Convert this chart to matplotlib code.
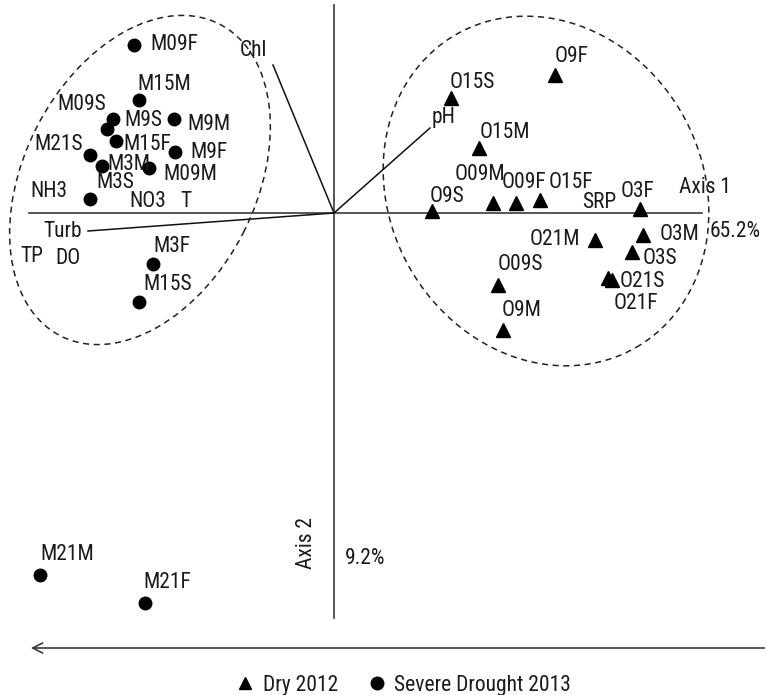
import matplotlib
matplotlib.use("Agg")
import matplotlib.pyplot as plt
from matplotlib.patches import Ellipse
from matplotlib.lines import Line2D

plt.rcParams['font.family'] = ['Roboto Condensed', 'Archivo Narrow', 'Liberation Sans', 'DejaVu Sans']

# site scores, Dry 2012 (triangles)
dry_sites = ['O9F', 'O15S', 'O15M', 'O9S', 'O09M', 'O09F', 'O15F', 'O3F',
             'O21M', 'O3M', 'O3S', 'O21S', 'O21F', 'O09S', 'O9M']
dry_x = [2.21, 1.17, 1.45, 0.98, 1.59, 1.82, 2.06, 3.06,
         2.61, 3.09, 2.98, 2.78, 2.74, 1.64, 1.69]
dry_y = [1.38, 1.15, 0.65, 0.02, 0.10, 0.10, 0.13, 0.04,
         -0.27, -0.22, -0.39, -0.67, -0.65, -0.72, -1.17]

# site scores, Severe Drought 2013 (circles)
drought_sites = ['M09F', 'M15M', 'M9S', 'M09S', 'M9M', 'M15F', 'M21S', 'M9F',
                 'M3M', 'M09M', 'M3S', 'M3F', 'M15S', 'M21M', 'M21F']
drought_x = [-2.00, -1.95, -2.21, -2.27, -1.60, -2.18, -2.44, -1.59,
             -2.32, -1.85, -2.44, -1.81, -1.95, -2.94, -1.89]
drought_y = [1.68, 1.13, 0.94, 0.84, 0.94, 0.72, 0.58, 0.61,
             0.47, 0.45, 0.14, -0.51, -0.89, -3.62, -3.90]

# environmental vectors drawn as lines
vec_names = ['Chl', 'pH', 'Turb']
vec_x = [-0.61, 0.96, -2.46]
vec_y = [1.48, 0.85, -0.18]

# variable labels
env_names = ['Chl', 'pH', 'Turb', 'NH3', 'NO3', 'T', 'TP', 'DO', 'SRP']
env_x = [-0.94, 0.98, -2.91, -3.04, -2.05, -1.54, -3.14, -2.79, 2.48]
env_y = [1.63, 0.96, -0.19, 0.21, 0.11, 0.11, -0.44, -0.46, 0.10]

axis1_pct = '65.2%'
axis2_pct = '9.2%'

# label offsets in pixels (dx, dy) from each marker
dry_off = [(0, 18), (-1, 16), (1, 15), (-2, 14), (-38, 28), (-14, 20), (9, 17),
           (-19, 17), (-65, 0), (17, 0), (11, -7), (8, -2), (6, -26), (0, 20), (-1, 19)]
drought_off = [(16, 0), (-2, 16), (11, -2), (-50, 24), (13, -5), (7, -4), (-56, 10),
               (15, 0), (5, 1), (14, -7), (6, 16), (0, 17), (4, 17), (0, 20), (-2, 21)]

fig = plt.figure(figsize=(7.67, 6.95), dpi=100)
ax = fig.add_axes([0, 0, 1, 1])
ax.set_xlim(-3.34, 4.33)
ax.set_ylim(-4.82, 2.13)
ax.axis('off')

fs = 15.5
tc = '#1a1a1a'
lc = '#3a3a3a'

# ordination axes
ax.plot([-3.05, 3.68], [0, 0], color=lc, lw=1.2)
ax.plot([0, 0], [-4.05, 2.08], color=lc, lw=1.2)

# group ellipses
ax.add_patch(Ellipse((-1.94, 0.33), 3.50, 2.32, angle=63, fill=False,
                     ls=(0, (4, 3)), color='#222222', lw=1.1))
ax.add_patch(Ellipse((2.12, 0.22), 3.13, 3.61, angle=30, fill=False,
                     ls=(0, (4, 3)), color='#222222', lw=1.1))

for vx, vy in zip(vec_x, vec_y):
    ax.plot([0, vx], [0, vy], color='#111111', lw=1.1)

ax.plot(dry_x, dry_y, '^', color='black', ms=10, ls='none')
ax.plot(drought_x, drought_y, 'o', color='black', ms=9, ls='none')

for name, x, y, off in zip(dry_sites, dry_x, dry_y, dry_off):
    ax.annotate(name, (x, y), xytext=off, textcoords='offset pixels',
                ha='left', va='center', fontsize=fs, color=tc)
for name, x, y, off in zip(drought_sites, drought_x, drought_y, drought_off):
    ax.annotate(name, (x, y), xytext=off, textcoords='offset pixels',
                ha='left', va='center', fontsize=fs, color=tc)
for name, x, y in zip(env_names, env_x, env_y):
    ax.text(x, y, name, ha='left', va='center', fontsize=fs, color=tc)

ax.text(3.45, 0.25, 'Axis 1', ha='left', va='center', fontsize=fs, color=tc)
ax.text(3.76, -0.19, axis1_pct, ha='left', va='center', fontsize=fs, color=tc)
ax.text(-0.27, -3.30, 'Axis 2', ha='center', va='center', rotation=90, fontsize=fs, color=tc)
ax.text(0.11, -3.46, axis2_pct, ha='left', va='center', fontsize=fs, color=tc)

# direction arrow under the plot
ax.annotate('', xy=(-3.06, -4.35), xytext=(4.33, -4.35),
            arrowprops=dict(arrowstyle='->', color=lc, lw=1.2, mutation_scale=18))

handles = [Line2D([], [], marker='^', color='black', ls='none', ms=9),
           Line2D([], [], marker='o', color='black', ls='none', ms=9)]
ax.legend(handles, ['Dry 2012', 'Severe Drought 2013'], ncol=2, frameon=False,
          loc='center', bbox_to_anchor=(0.525, 0.014), fontsize=fs, labelcolor=tc,
          handletextpad=0.3, columnspacing=1.3, handlelength=1.0)

fig.savefig('out.png', dpi=100)
